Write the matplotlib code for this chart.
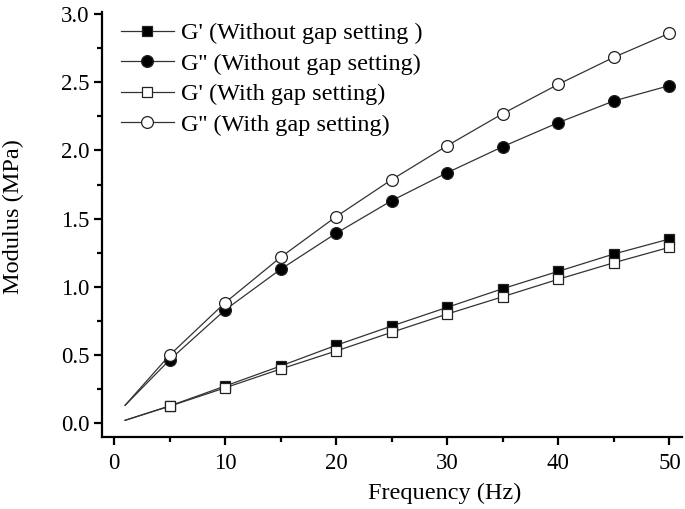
import matplotlib
matplotlib.use("Agg")
import matplotlib.pyplot as plt
from matplotlib.ticker import MultipleLocator

plt.rcParams['font.family'] = ['Liberation Serif', 'DejaVu Serif']

freq = [1, 5, 10, 15, 20, 25, 30, 35, 40, 45, 50]
g1_without = [0.022, 0.127, 0.273, 0.420, 0.572, 0.713, 0.850, 0.987, 1.114, 1.241, 1.351]
g2_without = [0.132, 0.464, 0.831, 1.129, 1.393, 1.632, 1.837, 2.028, 2.204, 2.363, 2.475]
g1_with = [0.022, 0.125, 0.260, 0.398, 0.530, 0.667, 0.801, 0.928, 1.056, 1.177, 1.290]
g2_with = [0.132, 0.499, 0.884, 1.217, 1.515, 1.786, 2.035, 2.270, 2.485, 2.683, 2.859]
labels = ["G' (Without gap setting )", "G'' (Without gap setting)",
          "G' (With gap setting)", "G'' (With gap setting)"]

W, H = 685, 509
L, R, T, B = 102, 682, 12, 437.3
fig = plt.figure(figsize=(W / 100, H / 100), dpi=100)
ax = fig.add_axes([L / W, 1 - B / H, (R - L) / W, (B - T) / H])

series = [(g1_without, 's', 'black'), (g2_without, 'o', 'black'),
          (g1_with, 's', 'white'), (g2_with, 'o', 'white')]
for (vals, m, fc), lab in zip(series, labels):
    ax.plot(freq, vals, color='#333333', lw=0.9, marker=m,
            markersize=8.5 if m == 'o' else 7.5,
            markerfacecolor=fc, markeredgecolor='#222222', markeredgewidth=0.9,
            markevery=list(range(1, len(freq))), label=lab)

ax.set_xlim(-1.08, 51.13)
ax.set_ylim(-0.1026, 3.0147)
ax.xaxis.set_major_locator(MultipleLocator(10))
ax.xaxis.set_minor_locator(MultipleLocator(5))
ax.yaxis.set_major_locator(MultipleLocator(0.5))
ax.yaxis.set_minor_locator(MultipleLocator(0.25))
ax.yaxis.set_major_formatter(plt.FuncFormatter(lambda v, p: f"{v:.1f}"))

for s in ['top', 'right']:
    ax.spines[s].set_visible(False)
for s in ['left', 'bottom']:
    ax.spines[s].set_linewidth(1.6)

ax.tick_params(which='major', direction='out', length=6, width=1.6, labelsize=16.5)
ax.tick_params(axis='x', which='major', pad=5)
ax.tick_params(axis='y', which='major', pad=3)
ax.tick_params(which='minor', direction='out', length=3.5, width=1.6)

ax.set_xlabel('Frequency (Hz)', fontsize=17.5)
ax.set_ylabel('Modulus (MPa)', fontsize=17.5)
ax.xaxis.label.set_va('center')
ax.yaxis.label.set_va('center')
ax.xaxis.set_label_coords((445 - L) / (R - L), (B - 493) / (B - T))
ax.yaxis.set_label_coords((13.5 - L) / (R - L), (B - 217) / (B - T))

ax.legend(loc='upper left', bbox_to_anchor=((120.7 - L) / (R - L), (B - 22) / (B - T)),
          frameon=False, fontsize=17.5,
          handlelength=2.2, handletextpad=0.27, labelspacing=0.35,
          borderpad=0, borderaxespad=0)

fig.savefig('out.png', dpi=100)
